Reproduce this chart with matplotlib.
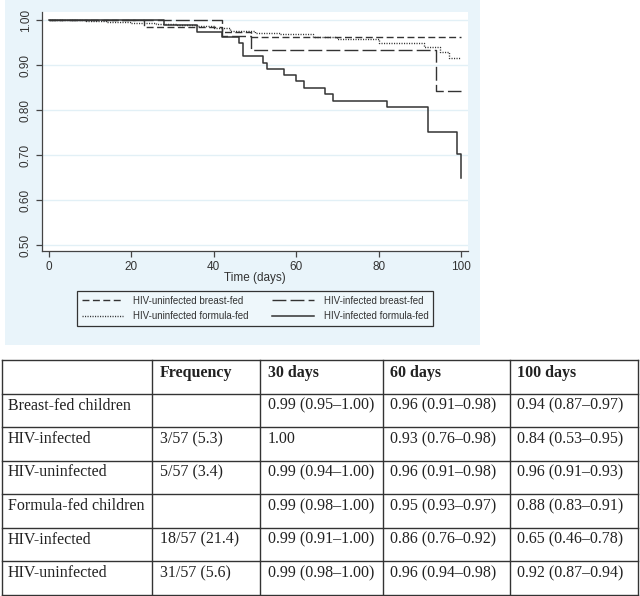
import matplotlib.pyplot as plt
from matplotlib.lines import Line2D
from matplotlib.patches import Rectangle

# survival curves (time in days, survival probability)
t_unin_bf = [0, 23, 42, 49, 100]
s_unin_bf = [1.0, 0.985, 0.973, 0.962, 0.962]

t_inf_bf = [0, 42, 49, 94, 100]
s_inf_bf = [1.0, 0.965, 0.933, 0.842, 0.842]

t_unin_ff = [0, 9, 14, 20, 26, 31, 36, 40, 44, 50, 56, 64, 70, 80, 91, 95, 97, 100]
s_unin_ff = [1.0, 0.998, 0.996, 0.994, 0.992, 0.989, 0.986, 0.982, 0.976, 0.972,
             0.968, 0.962, 0.958, 0.949, 0.94, 0.929, 0.916, 0.916]

t_inf_ff = [0, 28, 36, 42, 46, 47, 52, 53, 57, 60, 62, 67, 69, 82, 92, 99, 100]
s_inf_ff = [1.0, 0.988, 0.973, 0.962, 0.948, 0.92, 0.905, 0.891, 0.878, 0.864,
            0.849, 0.836, 0.82, 0.807, 0.751, 0.702, 0.649]

x_ticks = [0, 20, 40, 60, 80, 100]
y_ticks = [0.5, 0.6, 0.7, 0.8, 0.9, 1.0]

# table below the chart
header = ["", "Frequency", "30 days", "60 days", "100 days"]
row_labels = ["Breast-fed children", "HIV-infected", "HIV-uninfected",
              "Formula-fed children", "HIV-infected", "HIV-uninfected"]
frequency = ["", "3/57 (5.3)", "5/57 (3.4)", "", "18/57 (21.4)", "31/57 (5.6)"]
day30 = ["0.99 (0.95\u20131.00)", "1.00", "0.99 (0.94\u20131.00)",
         "0.99 (0.98\u20131.00)", "0.99 (0.91\u20131.00)", "0.99 (0.98\u20131.00)"]
day60 = ["0.96 (0.91\u20130.98)", "0.93 (0.76\u20130.98)", "0.96 (0.91\u20130.98)",
         "0.95 (0.93\u20130.97)", "0.86 (0.76\u20130.92)", "0.96 (0.94\u20130.98)"]
day100 = ["0.94 (0.87\u20130.97)", "0.84 (0.53\u20130.95)", "0.96 (0.91\u20130.93)",
          "0.88 (0.83\u20130.91)", "0.65 (0.46\u20130.78)", "0.92 (0.87\u20130.94)"]

W, H = 640, 596
fig = plt.figure(figsize=(6.4, 5.96), dpi=100)


def fx(x):
    return x / W


def fy(y):
    return 1 - y / H


# light blue panel behind the chart
fig.add_artist(Rectangle((fx(5), fy(345)), 475 / W, 345 / H, transform=fig.transFigure,
                         facecolor='#e9f4fa', edgecolor='none', zorder=0))

ax = fig.add_axes([fx(42), fy(251), 426 / W, 239 / H])
ax.set_facecolor('white')
lc = '#333333'
ax.plot(t_unin_bf, s_unin_bf, drawstyle='steps-post', color=lc, lw=1.0,
        dashes=(5, 2.5), label='HIV-uninfected breast-fed')
ax.plot(t_unin_ff, s_unin_ff, drawstyle='steps-post', color=lc, lw=1.0,
        dashes=(0.8, 1.0), label='HIV-uninfected formula-fed')
ax.plot(t_inf_bf, s_inf_bf, drawstyle='steps-post', color=lc, lw=1.0,
        dashes=(10, 3), label='HIV-infected breast-fed')
ax.plot(t_inf_ff, s_inf_ff, drawstyle='steps-post', color=lc, lw=1.1,
        label='HIV-infected formula-fed')

ax.set_xlim(-1.7, 101.7)
ax.set_ylim(0.4867, 1.0178)
ax.set_xticks(x_ticks)
ax.set_yticks(y_ticks)
ax.set_yticklabels(['%.2f' % v for v in y_ticks], rotation=90, va='center')
ax.grid(axis='y', color='#e2f0f6', lw=1.0)
ax.set_axisbelow(True)
for s in ['top', 'right']:
    ax.spines[s].set_visible(False)
for s in ['left', 'bottom']:
    ax.spines[s].set_color('#444444')
    ax.spines[s].set_linewidth(0.9)
ax.tick_params(colors='#444444', labelcolor='#333333', labelsize=8.5, length=4, width=0.9)
ax.set_xlabel('Time (days)', fontsize=8.5, color='#333333', labelpad=-1)
for lab in ax.get_xticklabels() + ax.get_yticklabels() + [ax.xaxis.label]:
    lab.set_family('Liberation Sans')

leg = ax.legend(loc='center', bbox_to_anchor=(fx(255), fy(308.5)),
                bbox_transform=fig.transFigure, ncol=2,
                prop={'family': 'Liberation Sans', 'size': 7},
                handlelength=4.3, handletextpad=1.0, columnspacing=2.4,
                labelspacing=0.6, borderpad=0.5, fancybox=False, framealpha=1)
leg.get_frame().set_edgecolor('#333333')
leg.get_frame().set_facecolor('#eef7fb')
leg.get_frame().set_linewidth(0.9)
for t in leg.get_texts():
    t.set_color('#333333')

# table
col_x = [2, 152, 260, 383, 510, 638]
row_y = [360 + 33.5 * i for i in range(8)]
tc = '#333333'
for x in col_x:
    fig.add_artist(Line2D([fx(x), fx(x)], [fy(row_y[0]), fy(row_y[-1])],
                          transform=fig.transFigure, color=tc, lw=1.0))
for y in row_y:
    fig.add_artist(Line2D([fx(col_x[0]), fx(col_x[-1])], [fy(y), fy(y)],
                          transform=fig.transFigure, color=tc, lw=1.0))

pads = [6, 8, 8, 7, 7]
for j, h in enumerate(header):
    fig.text(fx(col_x[j] + pads[j]), fy(row_y[0] + 17), h, family='Liberation Serif',
             fontsize=11.5, fontweight='bold', color='#222222', va='baseline')

columns = [row_labels, frequency, day30, day60, day100]
for j, col in enumerate(columns):
    for i, val in enumerate(col):
        fig.text(fx(col_x[j] + pads[j]), fy(row_y[i + 1] + 16), val,
                 family='Liberation Serif', fontsize=11.5, color='#222222', va='baseline')

plt.savefig('out.png', dpi=100)
